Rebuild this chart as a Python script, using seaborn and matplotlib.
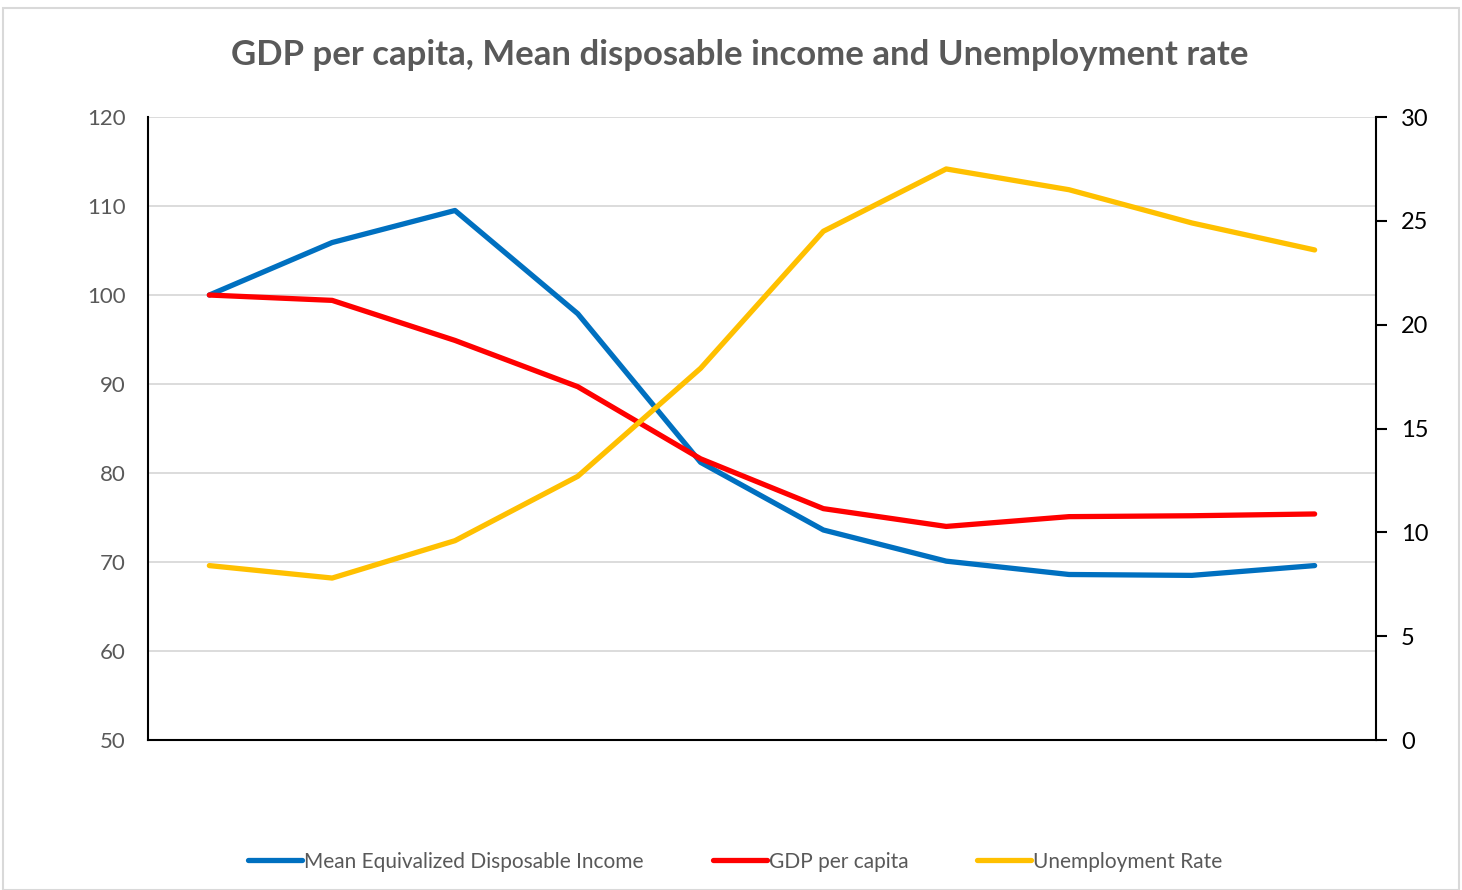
import pandas as pd
import matplotlib.pyplot as plt
import seaborn as sns
from matplotlib.patches import Rectangle

# Dados (10 anos, sem rótulos no eixo x)
periodos = list(range(10))
renda_disponivel = [100, 105.9, 109.5, 97.9, 81.2, 73.6, 70.1, 68.6, 68.5, 69.6]
pib_per_capita = [100, 99.4, 94.9, 89.7, 81.6, 76.0, 74.0, 75.1, 75.2, 75.4]
desemprego = [8.4, 7.8, 9.6, 12.7, 17.9, 24.5, 27.5, 26.5, 24.9, 23.6]

df = pd.DataFrame({
    'periodo': periodos,
    'renda': renda_disponivel,
    'pib': pib_per_capita,
    'desemprego': desemprego,
})

sns.set_theme(style='white')
plt.rcParams['font.family'] = ['Lato', 'DejaVu Sans']

fig = plt.figure(figsize=(14.62, 8.9), dpi=100)
ax = fig.add_axes([0.1012, 0.1685, 0.8400, 0.7000])
ax2 = ax.twinx()

sns.lineplot(data=df, x='periodo', y='renda', ax=ax, color='#0070C0', linewidth=3.8,
             label='Mean Equivalized Disposable Income', legend=False)
sns.lineplot(data=df, x='periodo', y='pib', ax=ax, color='#FF0000', linewidth=3.8,
             label='GDP per capita', legend=False)
sns.lineplot(data=df, x='periodo', y='desemprego', ax=ax2, color='#FFC000', linewidth=3.8,
             label='Unemployment Rate', legend=False)

# Eixo esquerdo
ax.set_xlim(-0.5, 9.5)
ax.set_ylim(50, 120)
ax.set_yticks(range(50, 121, 10))
ax.set_xticks([])
ax.set_xlabel('')
ax.set_ylabel('')
ax.grid(axis='y', color='#d9d9d9', linewidth=1.3)
ax.tick_params(axis='y', left=False, labelsize=16, labelcolor='#595959', pad=10)
for s in ['top', 'right']:
    ax.spines[s].set_visible(False)
for s in ['left', 'bottom']:
    ax.spines[s].set_color('black')
    ax.spines[s].set_linewidth(1.5)

# Eixo direito
ax2.set_ylim(0, 30)
ax2.set_yticks(range(0, 31, 5))
ax2.set_ylabel('')
ax2.tick_params(axis='y', right=True, direction='out', length=8, width=1.5,
                labelsize=17, labelcolor='black', pad=10, color='black')
for s in ['top', 'left', 'bottom']:
    ax2.spines[s].set_visible(False)
ax2.spines['right'].set_color('black')
ax2.spines['right'].set_linewidth(1.5)

fig.suptitle('GDP per capita, Mean disposable income and Unemployment rate',
             x=0.506, y=0.956, fontsize=25, fontweight='bold', color='#595959')

h1, l1 = ax.get_legend_handles_labels()
h2, l2 = ax2.get_legend_handles_labels()
fig.legend(h1 + h2, l1 + l2, loc='center', bbox_to_anchor=(0.503, 0.032), ncol=3,
           frameon=False, fontsize=15, labelcolor='#595959', handlelength=2.6,
           handletextpad=0.1, columnspacing=3.3)

# Borda do gráfico
fig.patches.append(Rectangle((0.002, 0.0), 0.996, 0.991, transform=fig.transFigure,
                             fill=False, edgecolor='#d9d9d9', linewidth=1.5))

fig.savefig('out.png', dpi=100)
